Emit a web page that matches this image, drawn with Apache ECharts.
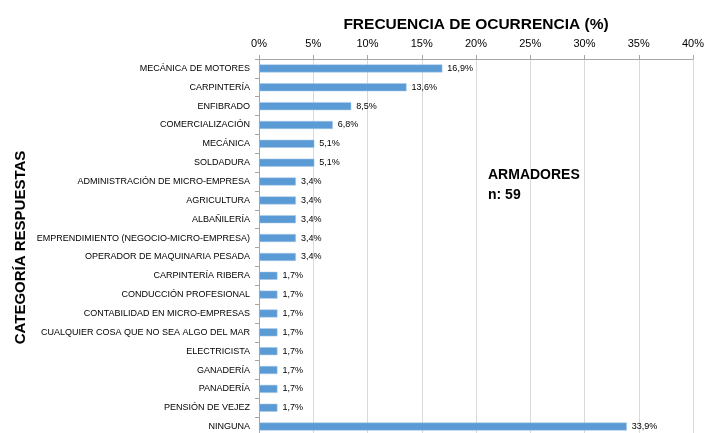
<!DOCTYPE html>
<html>
<head>
	<meta charset="UTF-8">
	<title>Frecuencia de ocurrencia</title>
	<script src="https://cdn.jsdelivr.net/npm/echarts@6/dist/echarts.min.js"></script>
	<style>
		body { margin: 0; background: #fff; }
	</style>
</head>
<body>
<div id="main" style="width: 704px;height:433px;"></div>
<script type="text/javascript">
	// categorias y valores (%)
	var categorias = ['MECÁNICA DE MOTORES', 'CARPINTERÍA', 'ENFIBRADO', 'COMERCIALIZACIÓN', 'MECÁNICA', 'SOLDADURA',
		'ADMINISTRACIÓN DE MICRO-EMPRESA', 'AGRICULTURA', 'ALBAÑILERÍA', 'EMPRENDIMIENTO (NEGOCIO-MICRO-EMPRESA)',
		'OPERADOR DE MAQUINARIA PESADA', 'CARPINTERÍA RIBERA', 'CONDUCCIÓN PROFESIONAL', 'CONTABILIDAD EN MICRO-EMPRESAS',
		'CUALQUIER COSA QUE NO SEA ALGO DEL MAR', 'ELECTRICISTA', 'GANADERÍA', 'PANADERÍA', 'PENSIÓN DE VEJEZ', 'NINGUNA'];
	var valores = [16.9, 13.6, 8.5, 6.8, 5.1, 5.1, 3.4, 3.4, 3.4, 3.4, 3.4, 1.7, 1.7, 1.7, 1.7, 1.7, 1.7, 1.7, 1.7, 33.9];
	var ejeMin = 0, ejeMax = 40, ejePaso = 5;

	var fuente = "'Liberation Sans', sans-serif";
	var myChart = echarts.init(document.getElementById('main'));

	var option = {
		animation: false,
		title: {
			text: 'FRECUENCIA DE OCURRENCIA (%)',
			left: 471,
			top: 12,
			textAlign: 'center',
			textStyle: { fontFamily: fuente, fontSize: 15.5, fontWeight: 'bold', color: '#000' }
		},
		grid: {
			left: 259,
			right: 11,
			top: 59,
			bottom: -3,
			outerBoundsMode: 'none',
			containLabel: false
		},
		xAxis: {
			type: 'value',
			position: 'top',
			min: ejeMin,
			max: ejeMax,
			interval: ejePaso,
			axisLine: { show: true, lineStyle: { color: '#a6a6a6' } },
			axisTick: { show: true, length: 4, lineStyle: { color: '#a6a6a6' } },
			splitLine: { show: true, lineStyle: { color: '#d9d9d9', width: 1 } },
			axisLabel: {
				margin: 10,
				fontFamily: fuente, fontSize: 11, color: '#000',
				formatter: function (v) { return v + '%'; }
			}
		},
		yAxis: {
			type: 'category',
			inverse: true,
			data: categorias,
			name: 'CATEGORÍA RESPUESTAS',
			nameLocation: 'middle',
			nameRotate: 90,
			nameGap: 231,
			nameMoveOverlap: false,
			nameTextStyle: { fontFamily: fuente, fontSize: 15, fontWeight: 'bold', color: '#000' },
			axisLine: { show: true, lineStyle: { color: '#a6a6a6' } },
			axisTick: { show: true, length: 4, lineStyle: { color: '#a6a6a6' } },
			axisLabel: { margin: 9, fontFamily: fuente, fontSize: 9, color: '#000' }
		},
		series: [
			{
				name: 'Frecuencia',
				type: 'bar',
				data: valores,
				barWidth: 8,
				itemStyle: { color: '#5b9bd5', borderColor: '#a9c8e8', borderWidth: 0.5 },
				label: {
					show: true,
					position: 'right',
					distance: 5,
					fontFamily: fuente, fontSize: 9, color: '#000',
					formatter: function (p) { return p.value.toFixed(1).replace('.', ',') + '%'; }
				}
			}
		],
		graphic: [
			{
				type: 'text',
				left: 488,
				top: 165,
				style: {
					text: 'ARMADORES\nn: 59',
					fontFamily: fuente, fontSize: 14, fontWeight: 'bold', fill: '#000',
					lineHeight: 20
				}
			}
		]
	};

	myChart.setOption(option);
</script>
</body>
</html>
